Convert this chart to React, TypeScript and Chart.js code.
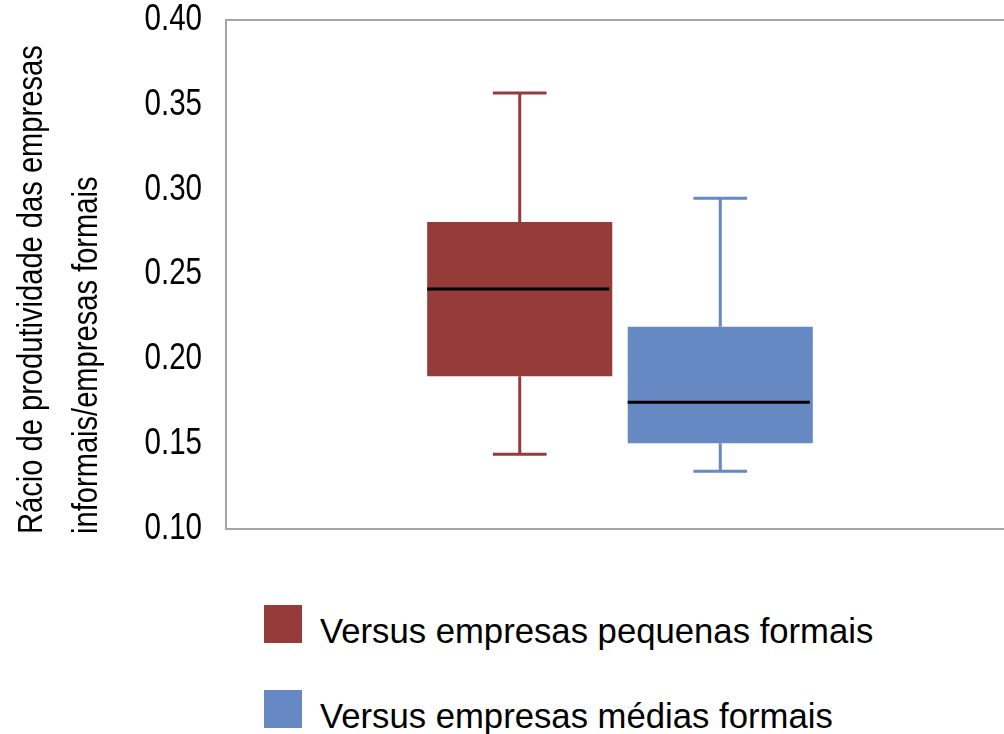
import React, { useEffect, useRef } from "react";
import { Chart, registerables, LinearScale } from "chart.js";

Chart.register(...registerables);

const categories = ["Rácio"];
const seriesLabels = ["Versus empresas pequenas formais", "Versus empresas médias formais"];
const seriesColors = ["#953B39", "#6689C4"];
const whiskerMin = [0.144, 0.134];
const q1 = [0.190, 0.1505];
const median = [0.2415, 0.1747];
const q3 = [0.281, 0.2192];
const whiskerMax = [0.357, 0.295];
const yMin = 0.1;
const yMax = 0.4;
const yStep = 0.05;
const yTitleLines = ["Rácio de produtividade das empresas", "informais/empresas formais"];

const FONT = "'Liberation Sans', Arial, sans-serif";
const NARROW_X = 0.82;

class NarrowLinearScale extends (LinearScale as any) {
  static id = "narrowLinear";
  static defaults = (LinearScale as any).defaults;
  drawLabels(chartArea: any) {
    const ctx = (this as any).ctx;
    const items = (this as any).getLabelItems(chartArea);
    for (const item of items) {
      const { label, font, options } = item;
      const [tx, ty] = options.translation;
      ctx.save();
      ctx.translate(tx, ty);
      ctx.scale(NARROW_X, 1);
      ctx.font = font.string;
      ctx.fillStyle = options.color;
      ctx.textAlign = options.textAlign;
      ctx.textBaseline = options.textBaseline;
      ctx.fillText(String(label), 0, 0);
      ctx.restore();
    }
  }
}
Chart.register(NarrowLinearScale as any);

const boxPlugin = {
  id: "boxWhiskers",
  beforeDraw(chart: any) {
    const { ctx, chartArea } = chart;
    ctx.save();
    ctx.strokeStyle = "#A6A6A6";
    ctx.lineWidth = 2;
    ctx.strokeRect(chartArea.left, chartArea.top, chartArea.right - chartArea.left, chartArea.bottom - chartArea.top);
    ctx.restore();
  },
  afterDatasetsDraw(chart: any) {
    const { ctx } = chart;
    const y = chart.scales.y;
    ctx.save();
    chart.data.datasets.forEach((ds: any, i: number) => {
      const el = chart.getDatasetMeta(i).data[0] as any;
      const x = el.x;
      const w = el.width;
      const capW = w * 0.29;
      ctx.strokeStyle = seriesColors[i];
      ctx.lineWidth = 3;
      ctx.beginPath();
      ctx.moveTo(x, y.getPixelForValue(q3[i]));
      ctx.lineTo(x, y.getPixelForValue(whiskerMax[i]));
      ctx.moveTo(x - capW / 2, y.getPixelForValue(whiskerMax[i]));
      ctx.lineTo(x + capW / 2, y.getPixelForValue(whiskerMax[i]));
      ctx.moveTo(x, y.getPixelForValue(q1[i]));
      ctx.lineTo(x, y.getPixelForValue(whiskerMin[i]));
      ctx.moveTo(x - capW / 2, y.getPixelForValue(whiskerMin[i]));
      ctx.lineTo(x + capW / 2, y.getPixelForValue(whiskerMin[i]));
      ctx.stroke();
      ctx.strokeStyle = "#000000";
      ctx.lineWidth = 3;
      ctx.beginPath();
      const my = y.getPixelForValue(median[i]);
      ctx.moveTo(x - w / 2, my);
      ctx.lineTo(x + w / 2 - 3, my);
      ctx.stroke();
    });
    ctx.restore();
  },
  afterDraw(chart: any) {
    const { ctx, chartArea } = chart;
    ctx.save();
    ctx.fillStyle = "#000000";
    ctx.font = `35.5px ${FONT}`;
    ctx.textAlign = "left";
    ctx.textBaseline = "alphabetic";
    const xs = [42, 97];
    yTitleLines.forEach((t, i) => {
      ctx.save();
      ctx.translate(xs[i], chartArea.bottom + 5);
      ctx.rotate(-Math.PI / 2);
      ctx.scale(NARROW_X, 1);
      ctx.fillText(t, 0, 0);
      ctx.restore();
    });
    ctx.restore();
  },
};

export default function App() {
  const ref = useRef<HTMLCanvasElement | null>(null);
  useEffect(() => {
    if (!ref.current) return;
    const chart = new Chart(ref.current, {
      type: "bar",
      data: {
        labels: categories,
        datasets: seriesLabels.map((label, i) => ({
          label,
          data: categories.map(() => [q1[i], q3[i]] as [number, number]),
          backgroundColor: seriesColors[i],
          borderWidth: 0,
          categoryPercentage: 0.509,
          barPercentage: 0.923,
        })),
      },
      options: {
        animation: false,
        responsive: false,
        devicePixelRatio: 1,
        layout: { padding: { left: 0, top: 20, right: 16, bottom: 51 } },
        plugins: { legend: { display: false }, tooltip: { enabled: false } },
        scales: {
          x: { display: false },
          y: {
            type: "narrowLinear" as any,
            min: yMin,
            max: yMax,
            afterFit: (s: any) => {
              s.width = 226;
              s.paddingTop = 0;
              s.paddingBottom = 0;
            },
            ticks: {
              stepSize: yStep,
              padding: 24,
              color: "#000000",
              font: { family: FONT, size: 36 },
              callback: (v: any) => Number(v).toFixed(2),
            },
            grid: { display: false, drawTicks: false },
            border: { display: false },
          },
        },
      } as any,
      plugins: [boxPlugin],
    });
    return () => chart.destroy();
  }, []);

  const sw = (i: number, top: number) => (
    <div key={i}>
      <div
        style={{
          position: "absolute",
          left: 264,
          top,
          width: 38,
          height: 38,
          background: seriesColors[i],
        }}
      />
      <div
        style={{
          position: "absolute",
          left: 320,
          top: top + 9,
          fontFamily: FONT,
          fontSize: 34.7,
          lineHeight: "34px",
          color: "#000",
          whiteSpace: "nowrap",
        }}
      >
        {seriesLabels[i]}
      </div>
    </div>
  );

  return (
    <div style={{ position: "absolute", left: 0, top: 0, width: 1004, height: 734, overflow: "hidden", background: "#fff" }}>
      <canvas ref={ref} width={1030} height={580} style={{ position: "absolute", left: 0, top: 0, width: 1030, height: 580 }} />
      {sw(0, 605)}
      {sw(1, 690)}
    </div>
  );
}
